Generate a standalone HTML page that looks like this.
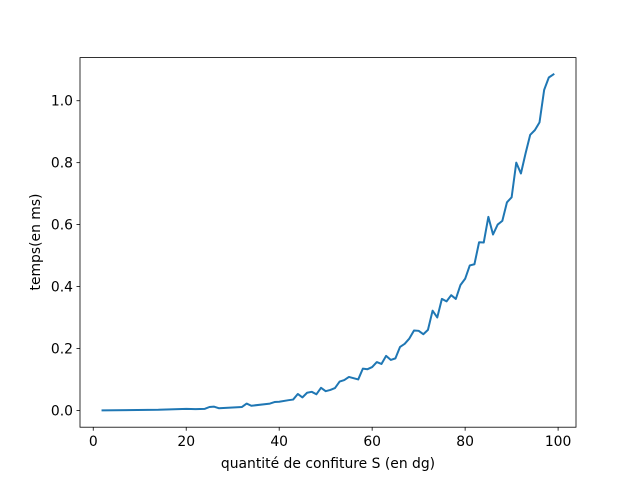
<!DOCTYPE html>
<html><head><meta charset="utf-8"><style>
body{margin:0;background:#fff}
svg text{font-family:"DejaVu Sans","Liberation Sans",sans-serif;font-size:13.9px;fill:#000}
</style></head><body>
<svg id="chart" width="640" height="480">
<rect x="0" y="0" width="640" height="480" fill="#fff"/>
<g id="plot"></g>
<rect x="80" y="57.6" width="496" height="369.6" fill="none" stroke="#000" stroke-width="0.8"/>
<text x="328" y="468" text-anchor="middle">quantité de confiture S (en dg)</text>
<text transform="translate(40,242) rotate(-90)" text-anchor="middle">temps(en ms)</text>
</svg>
<script>
const xs=[2,14,20,22,24,25,26,27,32,33,34,38,39,40,42,43,44,45,46,47,48,49,50,51,52,53,54,55,56,57,58,59,60,61,62,63,64,65,66,67,68,69,70,71,72,73,74,75,76,77,78,79,80,81,82,83,84,85,86,87,88,89,90,91,92,93,94,95,96,97,98,99];
const ys=[0,0.002,0.005,0.004,0.005,0.011,0.012,0.007,0.011,0.022,0.015,0.022,0.027,0.028,0.033,0.035,0.053,0.042,0.057,0.06,0.052,0.073,0.062,0.066,0.072,0.093,0.098,0.108,0.104,0.1,0.135,0.133,0.14,0.156,0.15,0.176,0.163,0.168,0.205,0.215,0.232,0.258,0.257,0.246,0.26,0.322,0.3,0.36,0.352,0.372,0.36,0.405,0.425,0.468,0.472,0.543,0.542,0.625,0.568,0.6,0.612,0.672,0.688,0.8,0.765,0.83,0.89,0.905,0.93,1.035,1.075,1.085];
const xTicks=[0,20,40,60,80,100];
const yTicks=[0.0,0.2,0.4,0.6,0.8,1.0];
const ns="http://www.w3.org/2000/svg";
const L=80,R=576,T=57.6,B=427.2;
const xmin0=Math.min(...xs),xmax0=Math.max(...xs),ymin0=Math.min(...ys),ymax0=Math.max(...ys);
const xmin=xmin0-0.05*(xmax0-xmin0),xmax=xmax0+0.05*(xmax0-xmin0);
const ymin=ymin0-0.05*(ymax0-ymin0),ymax=ymax0+0.05*(ymax0-ymin0);
const sx=v=>L+(v-xmin)/(xmax-xmin)*(R-L);
const sy=v=>B-(v-ymin)/(ymax-ymin)*(B-T);
const g=document.getElementById('plot');
function mk(t,a){const e=document.createElementNS(ns,t);for(const k in a)e.setAttribute(k,a[k]);g.appendChild(e);return e;}
xTicks.forEach(v=>{const x=sx(v);
 const l=mk('line',{x1:x,x2:x,y1:B,y2:B+3.5,stroke:'#000','stroke-width':0.8});
 
 
 const t=mk('text',{x:x,y:B+19,'text-anchor':'middle'});t.textContent=v;
 
 });
yTicks.forEach(v=>{const y=sy(v);
 const l=mk('line',{x1:L-3.5,x2:L,y1:y,y2:y,stroke:'#000','stroke-width':0.8});
 
 
 const t=mk('text',{x:L-7,y:y+5,'text-anchor':'end'});t.textContent=v.toFixed(1);
 
 });
const p=mk('polyline',{points:xs.map((x,i)=>sx(x)+','+sy(ys[i])).join(' '),fill:'none',stroke:'#1f77b4','stroke-width':2,'stroke-linejoin':'round','stroke-linecap':'square'});


</script>
</body></html>
